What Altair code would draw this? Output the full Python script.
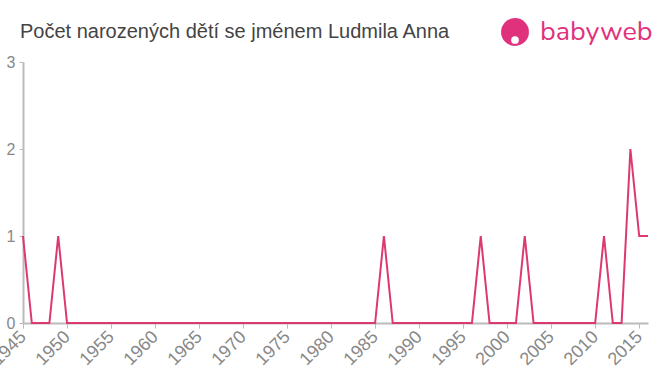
import altair as alt
import pandas as pd

years = list(range(1945, 2017))
peaks = {1945: 1, 1949: 1, 1986: 1, 1997: 1, 2002: 1, 2011: 1, 2014: 2, 2015: 1, 2016: 1}
counts = [peaks.get(y, 0) for y in years]

x_ticks = list(range(1945, 2016, 5))
y_ticks = [0, 1, 2, 3]

title_text = "Počet narozených dětí se jménem Ludmila Anna"
logo_text = "babyweb"

df = pd.DataFrame({"year": years, "count": counts})

W, H = 625, 261

line = alt.Chart(df).mark_line(color="#dc3a6e", strokeWidth=2, clip=False).encode(
    x=alt.X("year:Q",
            scale=alt.Scale(domain=[1945, 2016], nice=False, zero=False),
            axis=alt.Axis(values=x_ticks, format="d", title=None, grid=False,
                          labelAngle=-45, labelAlign="right", labelBaseline="middle",
                          labelFontSize=18, labelColor="#888", labelFont="Liberation Sans",
                          domainColor="#bbb", tickColor="#bbb", tickSize=5,
                          domainWidth=2, labelPadding=6, labelOverlap=False)),
    y=alt.Y("count:Q",
            scale=alt.Scale(domain=[0, 3], nice=False),
            axis=alt.Axis(values=y_ticks, format="d", title=None, grid=False,
                          labelFontSize=16, labelColor="#888", labelFont="Liberation Sans",
                          domainColor="#bbb", tickColor="#bbb", tickSize=4,
                          domainWidth=2, labelPadding=4)),
)

title = alt.Chart(pd.DataFrame({"t": [title_text]})).mark_text(
    align="left", baseline="alphabetic", fontSize=20, color="#444",
    font="Liberation Sans"
).encode(text="t:N", x=alt.value(-3), y=alt.value(-24))

logo_circle = alt.Chart(pd.DataFrame({"t": [logo_text]})).mark_point(
    filled=True, shape="circle", size=780, color="#e0327c", opacity=1
).encode(x=alt.value(492), y=alt.value(-30))

logo_dot = alt.Chart(pd.DataFrame({"t": [logo_text]})).mark_point(
    filled=True, shape="circle", size=60, color="white", opacity=1
).encode(x=alt.value(492), y=alt.value(-22))

logo = alt.Chart(pd.DataFrame({"t": [logo_text]})).mark_text(
    align="left", baseline="middle", fontSize=27, color="#e0327c",
    font="Nunito, Lato, Liberation Sans"
).encode(text="t:N", x=alt.value(517), y=alt.value(-30))

chart = alt.layer(line, title, logo_circle, logo_dot, logo).properties(
    width=W, height=H,
    autosize=alt.AutoSizeParams(type="none"),
    padding={"left": 23, "top": 62, "right": 12, "bottom": 52},
).configure_view(stroke=None)

chart.save("out.html", embed_options={"renderer": "svg", "actions": False})
